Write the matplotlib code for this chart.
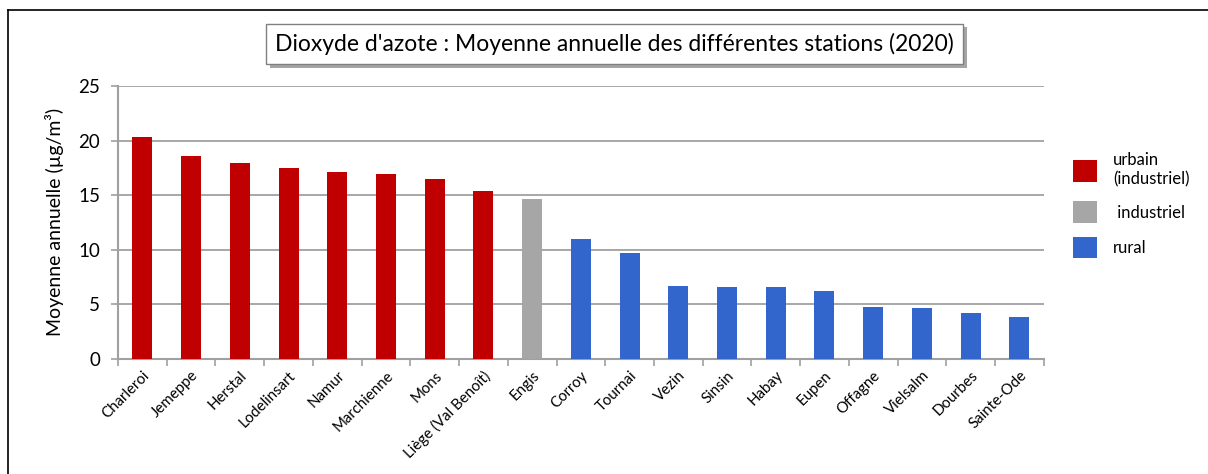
import matplotlib
matplotlib.use("Agg")
import matplotlib.pyplot as plt
import numpy as np
from matplotlib.patches import Patch
from matplotlib.lines import Line2D
import matplotlib.patheffects as pe

plt.rcParams['font.family'] = ['Lato', 'DejaVu Sans']

# station data (annual NO2 mean, µg/m³)
stations = ["Charleroi", "Jemeppe", "Herstal", "Lodelinsart", "Namur", "Marchienne",
            "Mons", "Liège (Val Benoît)", "Engis", "Corroy", "Tournai", "Vezin",
            "Sinsin", "Habay", "Eupen", "Offagne", "Vielsalm", "Dourbes", "Sainte-Ode"]
values = [20.35, 18.6, 17.9, 17.45, 17.15, 16.95, 16.45, 15.4, 14.6, 10.95, 9.65,
          6.7, 6.6, 6.6, 6.2, 4.75, 4.65, 4.15, 3.8]
types = ["urbain"] * 8 + ["industriel"] + ["rural"] * 10

colors = {"urbain": "#C00000", "industriel": "#A6A6A6", "rural": "#3366CC"}
legend_labels = ["urbain\n(industriel)", " industriel", "rural"]

fig = plt.figure(figsize=(12.08, 4.74), dpi=100)
ax = fig.add_axes([0.0977, 0.2432, 0.7663, 0.5754])

x = np.arange(len(stations))
ax.bar(x, values, width=0.41, color=[colors[t] for t in types], zorder=3)

ax.set_xlim(-0.5, len(stations) - 0.5)
ax.set_ylim(0, 25)
ax.set_yticks(range(0, 26, 5))
ax.yaxis.grid(True, color="#A0A0A0", linewidth=1.3, zorder=0)

# x ticks at category boundaries, labels at centers
ax.set_xticks(np.arange(-0.5, len(stations)), minor=False)
ax.set_xticklabels([])
ax.set_xticks(x, minor=True)
ax.set_xticklabels(stations, minor=True, rotation=45, ha="right", va="top",
                   rotation_mode="anchor", fontsize=10.8)
ax.tick_params(axis="x", which="minor", length=0, pad=7)
ax.tick_params(axis="x", which="major", length=5, color="#A0A0A0", width=1.2)
ax.tick_params(axis="y", length=5, color="#A0A0A0", width=1.2, labelsize=13.5, pad=8)

for s in ["top", "right"]:
    ax.spines[s].set_visible(False)
for s in ["left", "bottom"]:
    ax.spines[s].set_color("#A0A0A0")
    ax.spines[s].set_linewidth(1.5)

ax.set_ylabel("Moyenne annuelle (µg/m³)", fontsize=14, labelpad=10)

# title box with shadow
t = fig.text(0.509, 0.907, "Dioxyde d'azote : Moyenne annuelle des différentes stations (2020)",
             ha="center", va="center", fontsize=16.5,
             bbox=dict(boxstyle="square,pad=0.4", facecolor="white", edgecolor="#808080", linewidth=1))
t.get_bbox_patch().set_path_effects([pe.SimplePatchShadow(offset=(2.5, -2.5), alpha=0.5), pe.Normal()])

handles = [Patch(facecolor=colors[k]) for k in ["urbain", "industriel", "rural"]]
fig.legend(handles, legend_labels, loc="upper left", bbox_to_anchor=(0.876, 0.71),
           frameon=False, fontsize=12, handlelength=1.4, handleheight=1.6,
           handletextpad=1.0, labelspacing=0.85)

# outer frame (top and left edges visible)
fig.add_artist(Line2D([0.0066, 1.0], [0.979, 0.979], color="black", linewidth=1.2, transform=fig.transFigure))
fig.add_artist(Line2D([0.0066, 0.0066], [0.0, 0.979], color="black", linewidth=1.2, transform=fig.transFigure))

fig.savefig("out.png", dpi=100)
